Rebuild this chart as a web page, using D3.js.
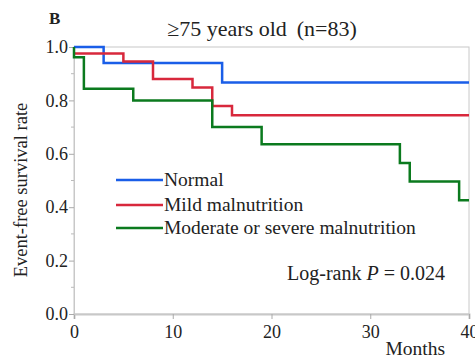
<!DOCTYPE html>
<html>
<head>
<meta charset="utf-8">
<script src="https://cdn.jsdelivr.net/npm/d3@7"></script>
<style>
  body { margin: 0; background: #fff; }
</style>
</head>
<body>
<div id="chart"></div>
<script>
// step points: [month, survival]
const normalSteps = [[0, 1.0], [3, 0.94], [15, 0.867], [40, 0.867]];
const mildSteps = [[0, 0.976], [5, 0.946], [8, 0.88], [12, 0.848], [14, 0.779], [16, 0.744], [40, 0.744]];
const severeSteps = [[0, 1.0], [0, 0.962], [1, 0.844], [6, 0.80], [14, 0.70], [19, 0.636], [33, 0.566], [34, 0.496], [39, 0.426], [40, 0.426]];

const seriesNames = ['Normal', 'Mild malnutrition', 'Moderate or severe malnutrition'];
const seriesColors = ['#1a5ee8', '#d8283c', '#0b7a1e'];
const xTicks = [0, 10, 20, 30, 40];
const yTicks = [0, 0.2, 0.4, 0.6, 0.8, 1.0];
const yMinorTicks = [0.1, 0.3, 0.5, 0.7, 0.9];

const serif = '"Liberation Serif", "Times New Roman", "DejaVu Serif", serif';
const width = 475, height = 359;
const margin = {top: 47, right: 6, bottom: 45, left: 74};

const svg = d3.select('#chart').append('svg')
    .attr('width', width)
    .attr('height', height)
    .style('font-family', serif);

const x = d3.scaleLinear().domain([0, 40]).range([margin.left, width - margin.right]);
const y = d3.scaleLinear().domain([0, 1]).range([height - margin.bottom, margin.top]);

// frame
svg.append('rect')
    .attr('x', x(0)).attr('y', y(1))
    .attr('width', x(40) - x(0)).attr('height', y(0) - y(1))
    .attr('fill', 'none').attr('stroke', '#c8c8c8').attr('stroke-width', 1);

// x axis
const xAxis = svg.append('g')
    .attr('transform', `translate(0,${y(0)})`)
    .call(d3.axisBottom(x).tickValues(xTicks).tickSize(5).tickFormat(d3.format('d')));
xAxis.attr('font-family', null);
xAxis.select('.domain').attr('stroke', '#c8c8c8').attr('stroke-width', 2);
xAxis.selectAll('.tick line').attr('stroke', '#aaa');
xAxis.selectAll('text').style('font-size', '18px').style('font-family', serif).attr('fill', '#222').attr('dy', '0.9em');

// y axis
const yAxis = svg.append('g')
    .attr('transform', `translate(${x(0)},0)`)
    .call(d3.axisLeft(y).tickValues(yTicks).tickSize(5).tickFormat(d3.format('.1f')));
yAxis.attr('font-family', null);
yAxis.select('.domain').attr('stroke', '#c8c8c8');
yAxis.selectAll('.tick line').attr('stroke', '#aaa');
yAxis.selectAll('text').style('font-size', '18px').style('font-family', serif).attr('fill', '#222').attr('x', -6);

svg.append('g').selectAll('line')
    .data(yMinorTicks)
    .join('line')
    .attr('x1', x(0) - 3).attr('x2', x(0))
    .attr('y1', d => y(d)).attr('y2', d => y(d))
    .attr('stroke', '#bbb');

// curves
const line = d3.line()
    .x(d => x(d[0]))
    .y(d => y(d[1]))
    .curve(d3.curveStepAfter);

[normalSteps, mildSteps, severeSteps].forEach((steps, i) => {
    svg.append('path')
        .datum(steps)
        .attr('d', line)
        .attr('fill', 'none')
        .attr('stroke', seriesColors[i])
        .attr('stroke-width', 2.5);
});

// legend
const legendY = [180, 205, 228];
seriesNames.forEach((name, i) => {
    svg.append('line')
        .attr('x1', 116).attr('x2', 163)
        .attr('y1', legendY[i]).attr('y2', legendY[i])
        .attr('stroke', seriesColors[i]).attr('stroke-width', 2.5);
    svg.append('text')
        .attr('x', 164).attr('y', legendY[i] + 6)
        .attr('fill', '#222')
        .style('font-size', '19.5px')
        .text(name);
});

// annotations
const pText = svg.append('text')
    .attr('x', 445).attr('y', 280)
    .attr('text-anchor', 'end')
    .attr('fill', '#222')
    .style('font-size', '20px');
pText.append('tspan').text('Log-rank ');
pText.append('tspan').style('font-style', 'italic').text('P');
pText.append('tspan').text(' = 0.024');

svg.append('text')
    .attr('x', 262).attr('y', 36)
    .attr('text-anchor', 'middle')
    .attr('fill', '#222')
    .style('font-size', '22px')
    .text('\u226575 years old\u2009 (n=83)');

svg.append('text')
    .attr('x', 49).attr('y', 24)
    .attr('fill', '#222')
    .style('font-size', '17px')
    .style('font-weight', 'bold')
    .text('B');

svg.append('text')
    .attr('x', 445).attr('y', 355)
    .attr('text-anchor', 'end')
    .attr('fill', '#222')
    .style('font-size', '19.5px')
    .text('Months');

svg.append('text')
    .attr('transform', `translate(27,190) rotate(-90)`)
    .attr('text-anchor', 'middle')
    .attr('fill', '#222')
    .style('font-size', '18.5px')
    .text('Event-free survival rate');
</script>
</body>
</html>
